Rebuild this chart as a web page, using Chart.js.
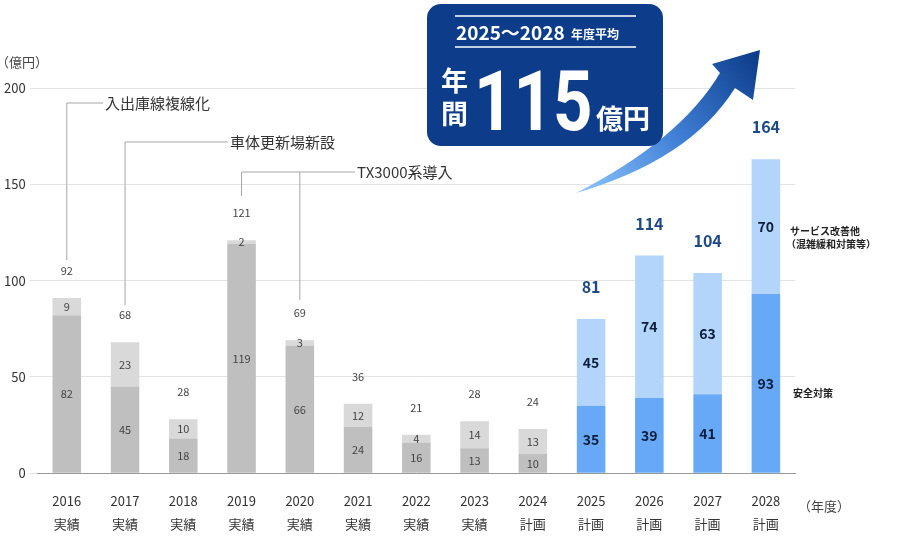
<!DOCTYPE html>
<html><head><meta charset="utf-8">
<script src="https://cdn.jsdelivr.net/npm/chart.js@4"></script>
<style>html,body{margin:0;background:#fff}#w{width:900px;height:550px}</style>
</head><body><div id="w"><canvas id="c"></canvas></div>
<script>
const years=['2016','2017','2018','2019','2020','2021','2022','2023','2024','2025','2026','2027','2028'];
const kinds=['実績','実績','実績','実績','実績','実績','実績','実績','計画','計画','計画','計画','計画'];
const safety=[82,45,18,119,66,24,16,13,10,35,39,41,93];
const service=[9,23,10,2,3,12,4,14,13,45,74,63,70];
const totals=[92,68,28,121,69,36,21,28,24,81,114,104,164];
const yTicks=[0,50,100,150,200];
const F='"Noto Sans CJK JP","Noto Sans",sans-serif';
const isPlan=i=>i>=9;
const c1=safety.map((v,i)=>isPlan(i)?'#67a9f6':'#bfbfbf');
const c2=service.map((v,i)=>isPlan(i)?'#b4d5fb':'#d9d9d9');

const deco={id:'deco',afterDatasetsDraw(ch){
 const g=ch.ctx,x=ch.scales.x,y=ch.scales.y;
 const m0=ch.getDatasetMeta(0),m1=ch.getDatasetMeta(1);
 g.save();g.textAlign='center';g.textBaseline='middle';
 for(let i=0;i<years.length;i++){
  const b0=m0.data[i],b1=m1.data[i];const p=isPlan(i);
  g.font=(p?'bold 14px ':'11px ')+F;g.fillStyle=p?'#0b1e3a':'#444';
  g.fillText(safety[i],b0.x,(b0.y+b0.base)/2);
  g.fillText(service[i],b1.x,(b1.y+b1.base)/2);
  g.font=(p?'bold 16px ':'11px ')+F;g.fillStyle=p?'#1d4a86':'#444';
  g.fillText(totals[i],b1.x,b1.y-(p?32:27));
 }
 g.strokeStyle='#a6a6a6';g.lineWidth=1;g.fillStyle='#333';g.font='15px '+F;g.textAlign='left';
 const X=i=>x.getPixelForValue(i);
 g.beginPath();g.moveTo(X(0),260);g.lineTo(X(0),103);g.lineTo(103,103);g.stroke();
 g.fillText('入出庫線複線化',105,103);
 g.beginPath();g.moveTo(X(1),305);g.lineTo(X(1),142);g.lineTo(228,142);g.stroke();
 g.fillText('車体更新場新設',230,142);
 g.beginPath();g.moveTo(X(3),196);g.lineTo(X(3),172);g.lineTo(355,172);g.moveTo(X(4),300);g.lineTo(X(4),172);g.stroke();
 g.fillText('TX3000系導入',357,172);
 g.font='bold 10px '+F;g.fillStyle='#222';
 g.fillText('サービス改善他',790,231);g.fillText('（混雑緩和対策等）',786,244);g.fillText('安全対策',793,393);
 g.font='13px '+F;g.fillStyle='#444';
 g.fillText('（億円）',-4,62);g.fillText('（年度）',798,506);
 const gr=g.createLinearGradient(580,190,760,60);gr.addColorStop(0,'#8cc3fb');gr.addColorStop(0.5,'#3f7fd6');gr.addColorStop(1,'#0d3d8a');
 g.fillStyle=gr;g.beginPath();g.moveTo(576,193);
 g.quadraticCurveTo(690,160,735,88);g.lineTo(753,100);g.lineTo(760,50);g.lineTo(712,64);g.lineTo(720,73);
 g.quadraticCurveTo(680,140,576,193);g.fill();
 g.fillStyle='#0d3d8a';g.beginPath();g.roundRect(427,4,236,142,14);g.fill();
 g.strokeStyle='#fff';g.lineWidth=1.5;g.beginPath();g.moveTo(455,16);g.lineTo(636,16);g.moveTo(455,47);g.lineTo(636,47);g.stroke();
 g.fillStyle='#fff';g.textBaseline='alphabetic';
 g.font='bold 19px '+F;g.fillText('2025〜2028',456,40);
 g.font='bold 12px '+F;g.fillText('年度平均',571,39);
 g.font='bold 27px '+F;g.fillText('年',441,91);g.fillText('間',441,124);
 g.font='bold 84px "Roboto","Noto Sans",sans-serif';g.save();g.translate(474,130);g.scale(0.82,1);g.fillText('115',0,0);g.restore();
 g.font='bold 27px '+F;g.fillText('億円',596,129);
 g.restore();
}};

new Chart(document.getElementById('c'),{type:'bar',
 data:{labels:years.map((y,i)=>[y,kinds[i]]),datasets:[
  {data:safety,backgroundColor:c1,barPercentage:0.49,categoryPercentage:1},
  {data:service,backgroundColor:c2,barPercentage:0.49,categoryPercentage:1}]},
 options:{responsive:true,maintainAspectRatio:false,animation:false,
  layout:{padding:{top:88,right:105,left:0,bottom:6}},
  plugins:{legend:{display:false},tooltip:{enabled:false}},
  scales:{x:{stacked:true,grid:{display:false},border:{color:'#999'},
    ticks:{color:'#333',font:{size:13,family:F,lineHeight:1.8},padding:8}},
   y:{stacked:true,min:0,max:200,afterBuildTicks:s=>{s.ticks=yTicks.map(v=>({value:v}))},
    grid:{color:'#e3e3e3'},border:{display:false},
    ticks:{color:'#333',font:{size:13,family:F},padding:4}}}},
 plugins:[deco]});
</script></body></html>
